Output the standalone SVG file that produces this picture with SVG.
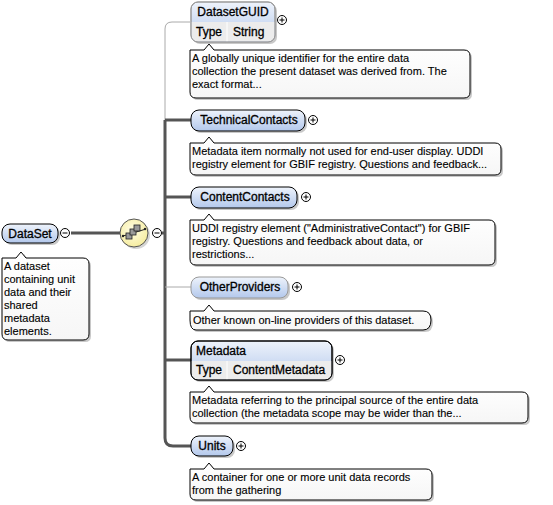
<svg xmlns="http://www.w3.org/2000/svg" width="553" height="505" viewBox="0 0 553 505">
<defs>
<linearGradient id="nodeGrad" x1="0" y1="0" x2="0" y2="1">
<stop offset="0" stop-color="#eef3fb"/>
<stop offset="1" stop-color="#b3c8ec"/>
</linearGradient>
<linearGradient id="docGrad" x1="0" y1="0" x2="0" y2="1">
<stop offset="0" stop-color="#ffffff"/>
<stop offset="1" stop-color="#f6f6f6"/>
</linearGradient>
<radialGradient id="seqGrad" cx="0.45" cy="0.4" r="0.6">
<stop offset="0" stop-color="#fffde6"/>
<stop offset="1" stop-color="#f6eda0"/>
</radialGradient>
</defs>
<style>
.nt{font-family:"Liberation Sans",Arial,sans-serif;font-size:12px;fill:#000;stroke:#000;stroke-width:0.3}
.dt{font-family:"Liberation Sans",Arial,sans-serif;font-size:11px;fill:#000;stroke:#000;stroke-width:0.12}
.node{fill:url(#nodeGrad);stroke:#000;stroke-width:1}
.opt{fill:url(#nodeGrad);stroke:#999;stroke-width:1}
.shadow{fill:#9a9a9a;opacity:0.55}
.doc{fill:url(#docGrad);stroke:#000;stroke-width:1}
.typerow{fill:#ececec}
.pm{fill:#fff;stroke:#000;stroke-width:1}
.pms{stroke:#000;stroke-width:1}
.thick{fill:none;stroke:#555;stroke-width:3}
.thin{fill:none;stroke:#aaa;stroke-width:1}
</style>

<g id="connectors">
<path class="thin" d="M190,22 H172 Q165,22 165,29 V120"/>
<path class="thick" d="M165,120 V438 Q165,446 173,446 H191"/>
<line class="thick" x1="165" y1="120" x2="191" y2="120"/>
<line class="thick" x1="165" y1="197" x2="191" y2="197"/>
<line class="thin" x1="165" y1="287" x2="191" y2="287"/>
<line class="thick" x1="165" y1="360" x2="191" y2="360"/>
<line class="thick" x1="71" y1="233" x2="120" y2="233"/>
<line class="thick" x1="162" y1="233" x2="165" y2="233"/>
</g>

<g id="DataSet">
<rect class="shadow" x="4" y="226" width="56" height="19" rx="8"/>
<rect class="node" x="2" y="224" width="56" height="19" rx="8"/>
<text class="nt" x="30" y="238" text-anchor="middle">DataSet</text>
<circle class="pm" cx="65" cy="233" r="4.5"/>
<line class="pms" x1="62.5" y1="233" x2="67.5" y2="233"/>
<path class="shadow" d="M4,260 H20 L24,254 L28,260 H85 Q91,260 91,266 V336 Q91,342 85,342 H10 Q4,342 4,336 Z"/>
<path class="doc" d="M2,258 H16 L21,252 L26,258 H83 Q89,258 89,264 V334 Q89,340 83,340 H8 Q2,340 2,334 Z"/>
<text class="dt" x="4" y="270">A dataset</text>
<text class="dt" x="4" y="283">containing unit</text>
<text class="dt" x="4" y="296">data and their</text>
<text class="dt" x="4" y="309">shared</text>
<text class="dt" x="4" y="322">metadata</text>
<text class="dt" x="4" y="335">elements.</text>
</g>

<g id="sequence">
<ellipse cx="136" cy="235" rx="14" ry="14" fill="#aaa" opacity="0.5"/>
<ellipse cx="134" cy="233" rx="14" ry="14" fill="url(#seqGrad)" stroke="#555" stroke-width="1"/>
<line x1="123" y1="236" x2="146" y2="229" stroke="#222" stroke-width="1"/>
<rect x="126" y="233" width="6" height="6" fill="#999" stroke="#222" stroke-width="0.8"/>
<rect x="130" y="229" width="6" height="6" fill="#999" stroke="#222" stroke-width="0.8"/>
<rect x="134" y="225" width="6" height="6" fill="#999" stroke="#222" stroke-width="0.8"/>
<circle cx="123" cy="236" r="1.2" fill="#222"/>
<circle cx="145" cy="229" r="1.2" fill="#222"/>
<circle class="pm" cx="157" cy="233" r="4.5"/>
<line class="pms" x1="154.5" y1="233" x2="159.5" y2="233"/>
</g>

<g id="DatasetGUID">
<rect class="shadow" x="193" y="4" width="84" height="40" rx="7"/>
<rect class="opt" x="191" y="2" width="84" height="40" rx="7"/>
<path class="typerow" d="M191.5,22 H274.5 V35 Q274.5,41.5 268,41.5 H198 Q191.5,41.5 191.5,35 Z"/>
<line x1="227" y1="22" x2="227" y2="41.5" stroke="#fff" stroke-width="1"/>
<rect x="191" y="2" width="84" height="40" rx="7" fill="none" stroke="#999"/>
<text class="nt" x="233" y="16" text-anchor="middle">DatasetGUID</text>
<text class="nt" x="196" y="36">Type</text>
<text class="nt" x="233" y="36">String</text>
<circle class="pm" cx="282" cy="20" r="4.5"/>
<path class="pms" d="M279.5,20 H284.5 M282,17.5 V22.5"/>
<path class="shadow" d="M192,52 H206 L211,46 L216,52 H466 Q472,52 472,58 V94 Q472,100 466,100 H198 Q192,100 192,94 Z"/>
<path class="doc" d="M190,50 H204 L209,44 L214,50 H464 Q470,50 470,56 V92 Q470,98 464,98 H196 Q190,98 190,92 Z"/>
<text class="dt" x="192" y="62">A globally unique identifier for the entire data</text>
<text class="dt" x="192" y="75">collection the present dataset was derived from. The</text>
<text class="dt" x="192" y="88">exact format...</text>
</g>

<g id="TechnicalContacts">
<rect class="shadow" x="193" y="112" width="114" height="21" rx="8"/>
<rect class="node" x="191" y="110" width="114" height="21" rx="8"/>
<text class="nt" x="249" y="124" text-anchor="middle">TechnicalContacts</text>
<circle class="pm" cx="313" cy="120" r="4.5"/>
<path class="pms" d="M310.5,120 H315.5 M313,117.5 V122.5"/>
<path class="shadow" d="M192,145 H206 L211,139 L216,145 H497 Q503,145 503,151 V171 Q503,177 497,177 H198 Q192,177 192,171 Z"/>
<path class="doc" d="M190,143 H204 L209,137 L214,143 H495 Q501,143 501,149 V169 Q501,175 495,175 H196 Q190,175 190,169 Z"/>
<text class="dt" x="192" y="155">Metadata item normally not used for end-user display. UDDI</text>
<text class="dt" x="192" y="168">registry element for GBIF registry. Questions and feedback...</text>
</g>

<g id="ContentContacts">
<rect class="shadow" x="193" y="189" width="106" height="21" rx="8"/>
<rect class="node" x="191" y="187" width="106" height="21" rx="8"/>
<text class="nt" x="245" y="201" text-anchor="middle">ContentContacts</text>
<circle class="pm" cx="306" cy="197" r="4.5"/>
<path class="pms" d="M303.5,197 H308.5 M306,194.5 V199.5"/>
<path class="shadow" d="M192,222 H206 L211,216 L216,222 H491 Q497,222 497,228 V261 Q497,267 491,267 H198 Q192,267 192,261 Z"/>
<path class="doc" d="M190,220 H204 L209,214 L214,220 H489 Q495,220 495,226 V259 Q495,265 489,265 H196 Q190,265 190,259 Z"/>
<text class="dt" x="192" y="232">UDDI registry element ("AdministrativeContact") for GBIF</text>
<text class="dt" x="192" y="245">registry. Questions and feedback about data, or</text>
<text class="dt" x="192" y="258">restrictions...</text>
</g>

<g id="OtherProviders">
<rect class="shadow" x="193" y="279" width="97" height="21" rx="8"/>
<rect class="opt" x="191" y="277" width="97" height="21" rx="8"/>
<text class="nt" x="240" y="291" text-anchor="middle">OtherProviders</text>
<circle class="pm" cx="297" cy="287" r="4.5"/>
<path class="pms" d="M294.5,287 H299.5 M297,284.5 V289.5"/>
<path class="shadow" d="M192,313 H206 L211,307 L216,313 H425 Q433,313 433,322 Q433,332 425,332 H198 Q192,332 192,322 Z"/>
<path class="doc" d="M190,311 H204 L209,305 L214,311 H423 Q431,311 431,320 Q431,330 423,330 H196 Q190,330 190,320 Z"/>
<text class="dt" x="193" y="324">Other known on-line providers of this dataset.</text>
</g>

<g id="Metadata">
<rect class="shadow" x="193" y="343" width="141" height="39" rx="7"/>
<rect class="node" x="191" y="341" width="141" height="39" rx="7"/>
<path class="typerow" d="M191.5,361 H331.5 V373 Q331.5,379.5 325,379.5 H198 Q191.5,379.5 191.5,373 Z"/>
<line x1="227" y1="361" x2="227" y2="379.5" stroke="#fff" stroke-width="1"/>
<rect x="191" y="341" width="141" height="39" rx="7" fill="none" stroke="#000"/>
<text class="nt" x="196" y="355">Metadata</text>
<text class="nt" x="196" y="374">Type</text>
<text class="nt" x="233" y="374">ContentMetadata</text>
<circle class="pm" cx="340" cy="360" r="4.5"/>
<path class="pms" d="M337.5,360 H342.5 M340,357.5 V362.5"/>
<path class="shadow" d="M192,394 H206 L211,388 L216,394 H524 Q530,394 530,400 V419 Q530,425 524,425 H198 Q192,425 192,419 Z"/>
<path class="doc" d="M190,392 H204 L209,386 L214,392 H522 Q528,392 528,398 V417 Q528,423 522,423 H196 Q190,423 190,417 Z"/>
<text class="dt" x="192" y="404">Metadata referring to the principal source of the entire data</text>
<text class="dt" x="192" y="417">collection (the metadata scope may be wider than the...</text>
</g>

<g id="Units">
<rect class="shadow" x="193" y="438" width="42" height="20" rx="8"/>
<rect class="node" x="191" y="436" width="42" height="20" rx="8"/>
<text class="nt" x="212" y="450" text-anchor="middle">Units</text>
<circle class="pm" cx="241" cy="446" r="4.5"/>
<path class="pms" d="M238.5,446 H243.5 M241,443.5 V448.5"/>
<path class="shadow" d="M192,471 H206 L211,465 L216,471 H428 Q434,471 434,477 V496 Q434,502 428,502 H198 Q192,502 192,496 Z"/>
<path class="doc" d="M190,469 H204 L209,463 L214,469 H426 Q432,469 432,475 V494 Q432,500 426,500 H196 Q190,500 190,494 Z"/>
<text class="dt" x="192" y="481">A container for one or more unit data records</text>
<text class="dt" x="192" y="494">from the gathering</text>
</g>
</svg>
